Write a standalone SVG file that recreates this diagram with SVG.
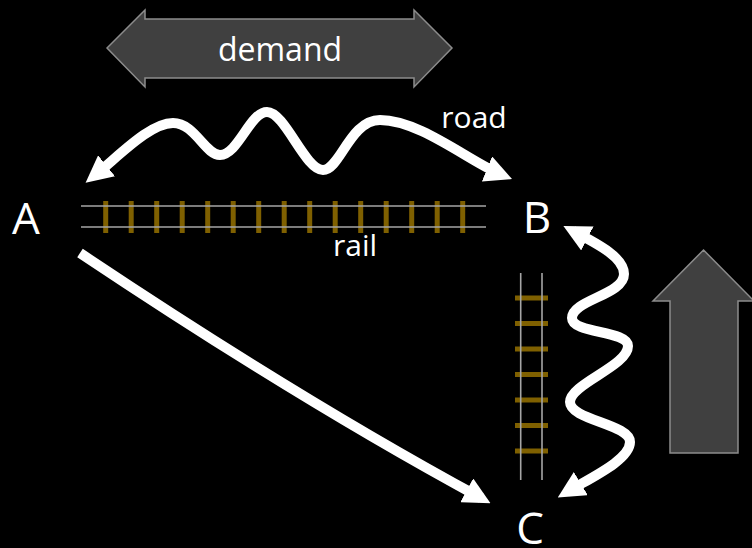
<svg xmlns="http://www.w3.org/2000/svg" width="752" height="548" viewBox="0 0 752 548">
<style>
.bg{fill:#000}
.blk{fill:#404040;stroke:#8c8c8c;stroke-width:1.5}
.lbl{font-family:"Open Sans","Liberation Sans",sans-serif;fill:#fff;text-anchor:middle}
.node{font-size:44px}
.small{font-size:30px}
.tie{stroke:#7f6000;stroke-width:5}
.rl{stroke:#a6a6a6;stroke-width:1.6}
.flow{fill:none;stroke:#fff;stroke-width:10}
</style>
<defs>
<marker id="ah" viewBox="0 0 10 10" refX="6" refY="5" markerWidth="2.7" markerHeight="2.7" orient="auto-start-reverse" markerUnits="strokeWidth">
<path d="M0,0 L10,5 L0,10 z" fill="#fff"/>
</marker>
</defs>
<rect class="bg" x="0" y="0" width="752" height="548"/>

<g id="demand">
<polygon class="blk" points="107,48 145,10 145,19 414,19 414,10 452,48 414,87 414,78 145,78 145,87"/>
<text class="lbl" x="280" y="61" font-size="32">demand</text>
</g>

<g id="growth">
<polygon class="blk" points="703.5,250 754,301 738,301 738,453 670,453 670,301 653,301"/>
</g>

<g id="rail-ab">
<g class="tie">
<line x1="105.7" y1="201" x2="105.7" y2="233"/>
<line x1="131.2" y1="201" x2="131.2" y2="233"/>
<line x1="156.7" y1="201" x2="156.7" y2="233"/>
<line x1="182.2" y1="201" x2="182.2" y2="233"/>
<line x1="207.7" y1="201" x2="207.7" y2="233"/>
<line x1="233.2" y1="201" x2="233.2" y2="233"/>
<line x1="258.7" y1="201" x2="258.7" y2="233"/>
<line x1="284.2" y1="201" x2="284.2" y2="233"/>
<line x1="309.7" y1="201" x2="309.7" y2="233"/>
<line x1="335.2" y1="201" x2="335.2" y2="233"/>
<line x1="360.7" y1="201" x2="360.7" y2="233"/>
<line x1="386.2" y1="201" x2="386.2" y2="233"/>
<line x1="411.7" y1="201" x2="411.7" y2="233"/>
<line x1="437.2" y1="201" x2="437.2" y2="233"/>
<line x1="462.7" y1="201" x2="462.7" y2="233"/>
</g>
<line class="rl" x1="81" y1="206" x2="486" y2="206"/>
<line class="rl" x1="81" y1="227" x2="486" y2="227"/>
<text class="lbl small" x="355" y="256">rail</text>
</g>

<g id="rail-bc">
<g class="tie">
<line x1="515" y1="298" x2="548" y2="298"/>
<line x1="515" y1="323.5" x2="548" y2="323.5"/>
<line x1="515" y1="349" x2="548" y2="349"/>
<line x1="515" y1="374.5" x2="548" y2="374.5"/>
<line x1="515" y1="400" x2="548" y2="400"/>
<line x1="515" y1="425.5" x2="548" y2="425.5"/>
<line x1="515" y1="451" x2="548" y2="451"/>
</g>
<line class="rl" x1="520.7" y1="273" x2="520.7" y2="480"/>
<line class="rl" x1="542" y1="273" x2="542" y2="480"/>
</g>

<g id="node-A"><text class="lbl node" x="26" y="234">A</text></g>
<g id="node-B"><text class="lbl node" x="537" y="233">B</text></g>
<g id="node-C"><text class="lbl node" x="530" y="544">C</text></g>

<g id="connectors">
<path id="road" class="flow" marker-start="url(#ah)" marker-end="url(#ah)" d="M94,176 C120,155 150,123 173,123 C195,123 205,155 220,155 C238,155 250,112 267,112 C285,112 305,170 323,170 C340,170 350,120 380,120 C420,120 470,162 502,175"/>
<text class="lbl small" x="474" y="128">road</text>
<path id="bc" class="flow" marker-start="url(#ah)" marker-end="url(#ah)" d="M573,231 C600,245 624,258 624,274 C624,295 572,300 572,318 C572,334 628,330 628,346 C628,366 570,384 570,402 C570,420 630,424 630,442 C630,460 590,478 567,492"/>
<path id="ac" class="flow" marker-end="url(#ah)" d="M80,253 Q300,400 481,498"/>
</g>
</svg>
